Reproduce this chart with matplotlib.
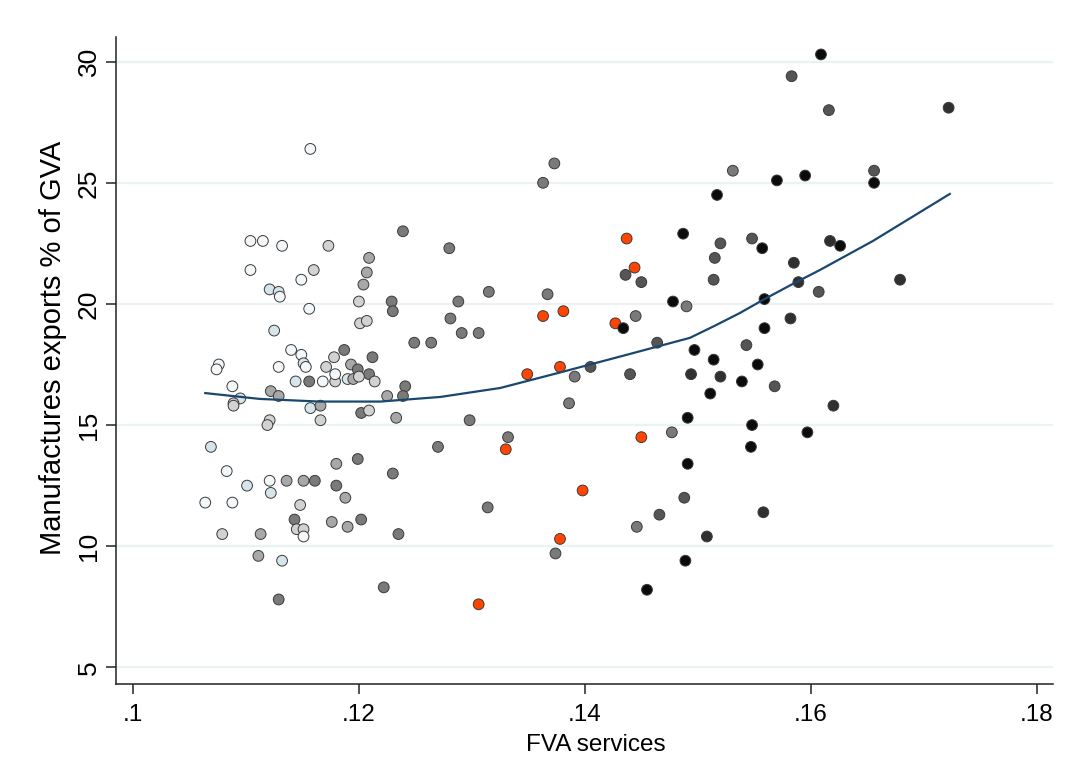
import matplotlib
matplotlib.use("Agg")
import matplotlib.pyplot as plt

plt.rcParams["font.family"] = ["Liberation Sans", "DejaVu Sans"]

# FVA services (x) and manufactures exports % of GVA (y)
fva = [
    .1157, .1104, .1115, .1132, .1173, .1104, .1160, .1149, .1121, .1129,
    .1130, .1156, .1125, .1140, .1149, .1151, .1153, .1129, .1076, .1074,
    .1088, .1095, .1089, .1089, .1122, .1129, .1144, .1156, .1168, .1179,
    .1179, .1171, .1178, .1187, .1193, .1199, .1209, .1212, .1190, .1195,
    .1200, .1214, .1157, .1166, .1166, .1202, .1209, .1225, .1241, .1239,
    .1233, .1121, .1119, .1069, .1270, .1083, .1101, .1121, .1136, .1151,
    .1161, .1122, .1064, .1088, .1148, .1180, .1199, .1180, .1188, .1230,
    .1143, .1145, .1151, .1151, .1176, .1190, .1202, .1079, .1113, .1235,
    .1111, .1132, .1222, .1129, .1239, .1280, .1209, .1207, .1204, .1200,
    .1229, .1230, .1288, .1281, .1291, .1306, .1315, .1201, .1207, .1249,
    .1264, .1298, .1332, .1330, .1314, .1306, .1373, .1363, .1367, .1363,
    .1381, .1349, .1378, .1391, .1405, .1386, .1398, .1378, .1374, .1437,
    .1444, .1436, .1450, .1427, .1434, .1445, .1478, .1490, .1464, .1497,
    .1514, .1494, .1520, .1539, .1440, .1450, .1477, .1491, .1511, .1491,
    .1488, .1466, .1446, .1508, .1489, .1455, .1487, .1517, .1531, .1520,
    .1515, .1514, .1609, .1583, .1616, .1722, .1570, .1595, .1656, .1656,
    .1548, .1557, .1617, .1626, .1585, .1589, .1607, .1679, .1559, .1559,
    .1582, .1543, .1553, .1568, .1620, .1548, .1597, .1547, .1558,
]
mfg = [
    26.4, 22.6, 22.6, 22.4, 22.4, 21.4, 21.4, 21.0, 20.6, 20.5,
    20.3, 19.8, 18.9, 18.1, 17.9, 17.55, 17.4, 17.4, 17.5, 17.3,
    16.6, 16.1, 15.9, 15.8, 16.4, 16.2, 16.8, 16.8, 16.8, 16.8,
    17.1, 17.4, 17.8, 18.1, 17.5, 17.3, 17.1, 17.8, 16.9, 16.9,
    17.0, 16.8, 15.7, 15.8, 15.2, 15.5, 15.6, 16.2, 16.6, 16.2,
    15.3, 15.2, 15.0, 14.1, 14.1, 13.1, 12.5, 12.7, 12.7, 12.7,
    12.7, 12.2, 11.8, 11.8, 11.7, 13.4, 13.6, 12.5, 12.0, 13.0,
    11.1, 10.7, 10.7, 10.4, 11.0, 10.8, 11.1, 10.5, 10.5, 10.5,
    9.6, 9.4, 8.3, 7.8, 23.0, 22.3, 21.9, 21.3, 20.8, 20.1,
    20.1, 19.7, 20.1, 19.4, 18.8, 18.8, 20.5, 19.2, 19.3, 18.4,
    18.4, 15.2, 14.5, 14.0, 11.6, 7.6, 25.8, 25.0, 20.4, 19.5,
    19.7, 17.1, 17.4, 17.0, 17.4, 15.9, 12.3, 10.3, 9.7, 22.7,
    21.5, 21.2, 20.9, 19.2, 19.0, 19.5, 20.1, 19.9, 18.4, 18.1,
    17.7, 17.1, 17.0, 16.8, 17.1, 14.5, 14.7, 15.3, 16.3, 13.4,
    12.0, 11.3, 10.8, 10.4, 9.4, 8.2, 22.9, 24.5, 25.5, 22.5,
    21.9, 21.0, 30.3, 29.4, 28.0, 28.1, 25.1, 25.3, 25.5, 25.0,
    22.7, 22.3, 22.6, 22.4, 21.7, 20.9, 20.5, 21.0, 20.2, 19.0,
    19.4, 18.3, 17.5, 16.6, 15.8, 15.0, 14.7, 14.1, 11.4,
]
# marker shade per point (same order, rows of ten): w white, b pale blue,
# l light grey, m mid grey, g grey, d dark grey, k near black, x black, o orange
shade = "".join([
    "wwwwlwlwbb", "wwbwwbwwww", "wbllmmbgwl", "wllgmgggbm",
    "llbmlglmgg", "mllbgwbwmm", "gbwwlmggmg", "gllwmmglmg",
    "mbggggmmml", "gggggggllg", "gggogogggo", "ooogdgoogo",
    "oddoxgxgdx", "xkkxdogxxx", "ddgkxxxxgd", "ddxddkxxdx",
    "dxkxkkdkxx", "kdxdkxxxk",
])
colors = {"w": "#f3f7f9", "b": "#d6e4ec", "l": "#d2d2d2", "m": "#a8a8a8",
          "g": "#7a7a7a", "d": "#555555", "k": "#303030", "x": "#0b0b0b",
          "o": "#ff4500"}

# fitted line
fit_x = [.1064, .1112, .1165, .1219, .1272, .1325, .1378, .1437, .1493,
         .1515, .1537, .1559, .1583, .1608, .1655, .1723]
fit_y = [16.32, 16.08, 15.97, 15.97, 16.16, 16.53, 17.17, 17.9, 18.6,
         19.1, 19.62, 20.2, 20.8, 21.4, 22.6, 24.54]

fig = plt.figure(figsize=(10.71, 7.82), dpi=100)
ax = fig.add_axes([0.108, 0.1253, 0.875, 0.8274])

ax.scatter(fva, mfg, s=60, c=[colors[c] for c in shade],
           edgecolors="#3a3a3a", linewidths=0.7, zorder=3)
ax.plot(fit_x, fit_y, color="#1a476f", lw=1.6, zorder=4)

ax.set_xlim(0.09847, 0.18142)
ax.set_ylim(4.31, 31.02)
ax.set_xticks([.10, .12, .14, .16, .18])
ax.set_xticklabels([".1", ".12", ".14", ".16", ".18"], fontsize=17.5)
ax.set_yticks([5, 10, 15, 20, 25, 30])
ax.set_yticklabels(["5", "10", "15", "20", "25", "30"], rotation=90,
                   va="center", fontsize=19)
ax.grid(axis="y", color="#eaf2f3", lw=1.6, zorder=0)
ax.set_axisbelow(True)
for s in ["top", "right"]:
    ax.spines[s].set_visible(False)
for s in ["left", "bottom"]:
    ax.spines[s].set_color("#222222")
    ax.spines[s].set_linewidth(1.1)
ax.tick_params(axis="both", length=7.5, width=1.1, color="#222222")
ax.tick_params(axis="x", pad=7)
ax.tick_params(axis="y", pad=3)
ax.set_xlabel("FVA services", fontsize=17.5)
ax.set_ylabel("Manufactures exports % of GVA", fontsize=21)
ax.xaxis.set_label_coords(0.512, -0.078)
ax.yaxis.set_label_coords(-0.052, 0.52)

fig.savefig("out.png", dpi=100)
